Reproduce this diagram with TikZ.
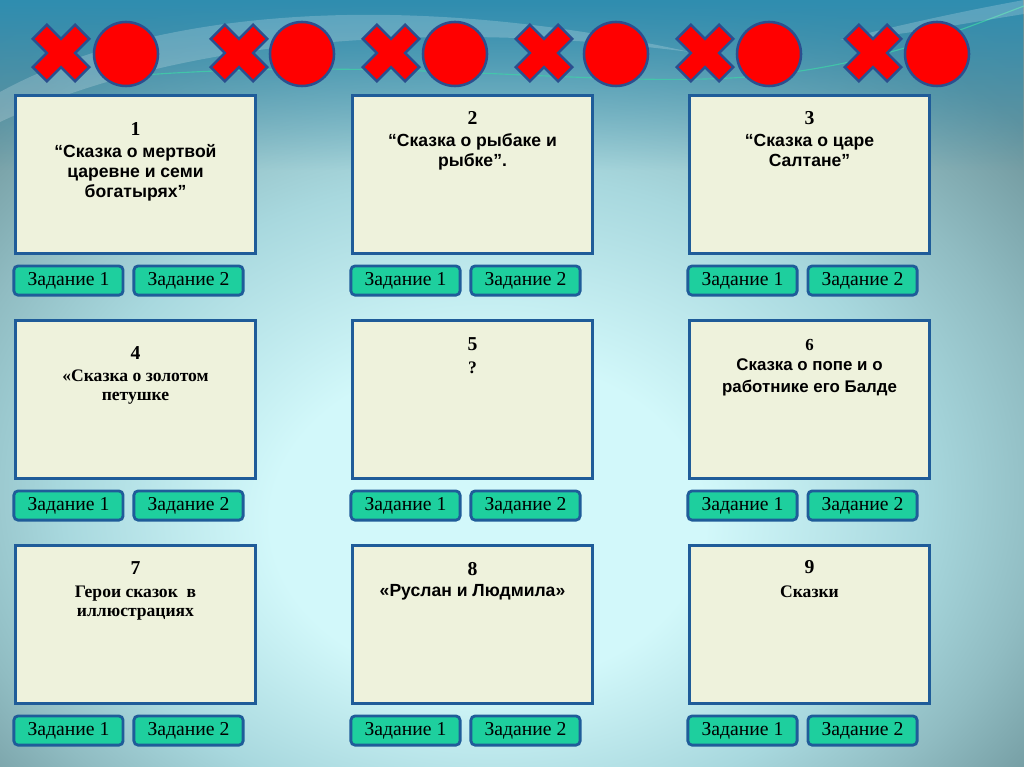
\documentclass[tikz,border=0pt]{standalone}
\usepackage{fontspec}
\setmainfont{Liberation Serif}
\setsansfont{Liberation Sans}
\usetikzlibrary{positioning,fadings}

\definecolor{glow}{HTML}{D2F8FA}
\definecolor{midteal}{HTML}{A8D8DE}
\definecolor{lowteal}{HTML}{90BCC2}
\definecolor{edgeteal}{HTML}{6E959B}
\definecolor{sideteal}{HTML}{668E95}
\definecolor{cornteal}{HTML}{4E7478}
\definecolor{topblue}{HTML}{2F8DB0}
\definecolor{cardfill}{HTML}{EEF2DC}
\definecolor{cardline}{HTML}{1F5C99}
\definecolor{btnfill}{HTML}{1ECF9E}
\definecolor{markred}{HTML}{FF0000}
\definecolor{markline}{HTML}{2B4F8F}
\definecolor{streak}{HTML}{3FCFA8}

\pgfdeclareradialshading{bgglow}{\pgfpoint{-1.4bp}{-10.6bp}}{color(0bp)=(glow); color(10.6bp)=(glow); color(21bp)=(midteal); color(27bp)=(lowteal); color(34bp)=(edgeteal); color(39bp)=(sideteal); color(46bp)=(cornteal); color(70bp)=(cornteal)}
\tikzfading[name=topfade, top color=transparent!0, bottom color=transparent!100]

\newcommand{\numf}{\fontsize{14}{16}\selectfont\rmfamily\bfseries}

\tikzset{
  card/.style={draw=cardline, line width=2pt, fill=cardfill, minimum width=6cm, minimum height=3.95cm, inner sep=0pt},
  btn/.style={draw=cardline, line width=2pt, fill=btnfill, rounded corners=3pt, minimum width=2.73cm, minimum height=0.73cm, inner sep=0pt, font=\fontsize{14}{16}\selectfont},
  ttl/.style={anchor=north, align=center, inner sep=0pt, font=\fontsize{12.5}{14.2}\selectfont\sffamily\bfseries},
  ttlrm/.style={anchor=north, align=center, inner sep=0pt, font=\fontsize{12.5}{13.5}\selectfont\rmfamily\bfseries},
  omark/.style={circle, draw=markline, line width=1.8pt, fill=markred, minimum size=1.6cm, inner sep=0pt},
  xmark/.style={draw=markline, line width=1.8pt, fill=markred, line join=miter}
}

\begin{document}
\begin{tikzpicture}[x=0.025cm, y=-0.025cm]
  \useasboundingbox (0,0) rectangle (1024,767);
  % background
  \shade[shading=bgglow] (0,0) rectangle (1024,767);
  \fill[topblue, path fading=topfade] (0,0) rectangle (1024,170);
  \fill[white, opacity=0.2] (0,92) .. controls (150,10) and (400,-12) .. (690,52)
    .. controls (420,18) and (170,42) .. (0,122) -- cycle;
  \draw[streak, line width=0.8pt, opacity=0.8] (130,76) .. controls (400,55) and (600,90) .. (760,76)
    .. controls (880,64) and (960,30) .. (1024,6);
  \fill[white, opacity=0.2] (840,40) .. controls (920,20) and (980,8) .. (1024,0) -- (1024,14)
    .. controls (960,24) and (900,36) .. (840,40) -- cycle;

  % crosses and circles
  \foreach \cx in {61,239,391,544,705,873}
    \draw[xmark, shift={(\cx,53)}, rotate=45] (10,30) -- (10,10) -- (30,10) -- (30,-10) -- (10,-10)
      -- (10,-30) -- (-10,-30) -- (-10,-10) -- (-30,-10) -- (-30,10) -- (-10,10) -- (-10,30) -- cycle;
  \foreach \cx [count=\k] in {126,302,455,616,769,937}
    \node[omark] (o\k) at (\cx,54) {};

  % cards
  \node[card] (c1) at (135.5,174.5) {};
  \node[card] (c2) at (472.5,174.5) {};
  \node[card] (c3) at (809.5,174.5) {};
  \node[card] (c4) at (135.5,399.5) {};
  \node[card] (c5) at (472.5,399.5) {};
  \node[card] (c6) at (809.5,399.5) {};
  \node[card] (c7) at (135.5,624.5) {};
  \node[card] (c8) at (472.5,624.5) {};
  \node[card] (c9) at (809.5,624.5) {};

  % buttons
  \foreach \i in {1,...,9} {
    \node[btn] (t\i-1) at ([xshift=1.36cm,yshift=-0.64cm]c\i.south west) {Задание 1};
    \node[btn] (t\i-2) at ([xshift=4.36cm,yshift=-0.64cm]c\i.south west) {Задание 2};
  }

  % titles
  \node[ttl] (n1) at ([yshift=-0.7cm]c1.north) {{\numf 1}\\[1.4pt] “Сказка о мертвой\\ царевне и семи\\ богатырях”};
  \node[ttl] (n2) at ([yshift=-0.44cm]c2.north) {{\numf 2}\\[1.4pt] “Сказка о рыбаке и\\ рыбке”.};
  \node[ttl] (n3) at ([yshift=-0.44cm]c3.north) {{\numf 3}\\[1.4pt] “Сказка о царе\\ Салтане”};
  \node[ttlrm] (n4) at ([yshift=-0.69cm]c4.north) {{\numf 4}\\[2pt] «Сказка о золотом\\ петушке};
  \node[ttlrm] (n5) at ([yshift=-0.46cm]c5.north) {{\numf 5}\\[3pt] ?};
  \node[ttl, font=\fontsize{12}{15.6}\selectfont\sffamily\bfseries] (n6) at ([yshift=-0.49cm]c6.north)
    {{\fontsize{12}{13}\selectfont\rmfamily\bfseries 6}\\[-1pt] Сказка о попе и о\\ работнике его Балде};
  \node[ttlrm] (n7) at ([yshift=-0.44cm]c7.north) {{\numf 7}\\[2.5pt] Герои сказок~ в\\ иллюстрациях};
  \node[ttl] (n8) at ([yshift=-0.44cm]c8.north) {{\numf 8}\\[1.4pt] «Руслан и Людмила»};
  \node[ttlrm] (n9) at ([yshift=-0.41cm]c9.north) {{\numf 9}\\[3pt] Сказки};
\end{tikzpicture}
\end{document}
